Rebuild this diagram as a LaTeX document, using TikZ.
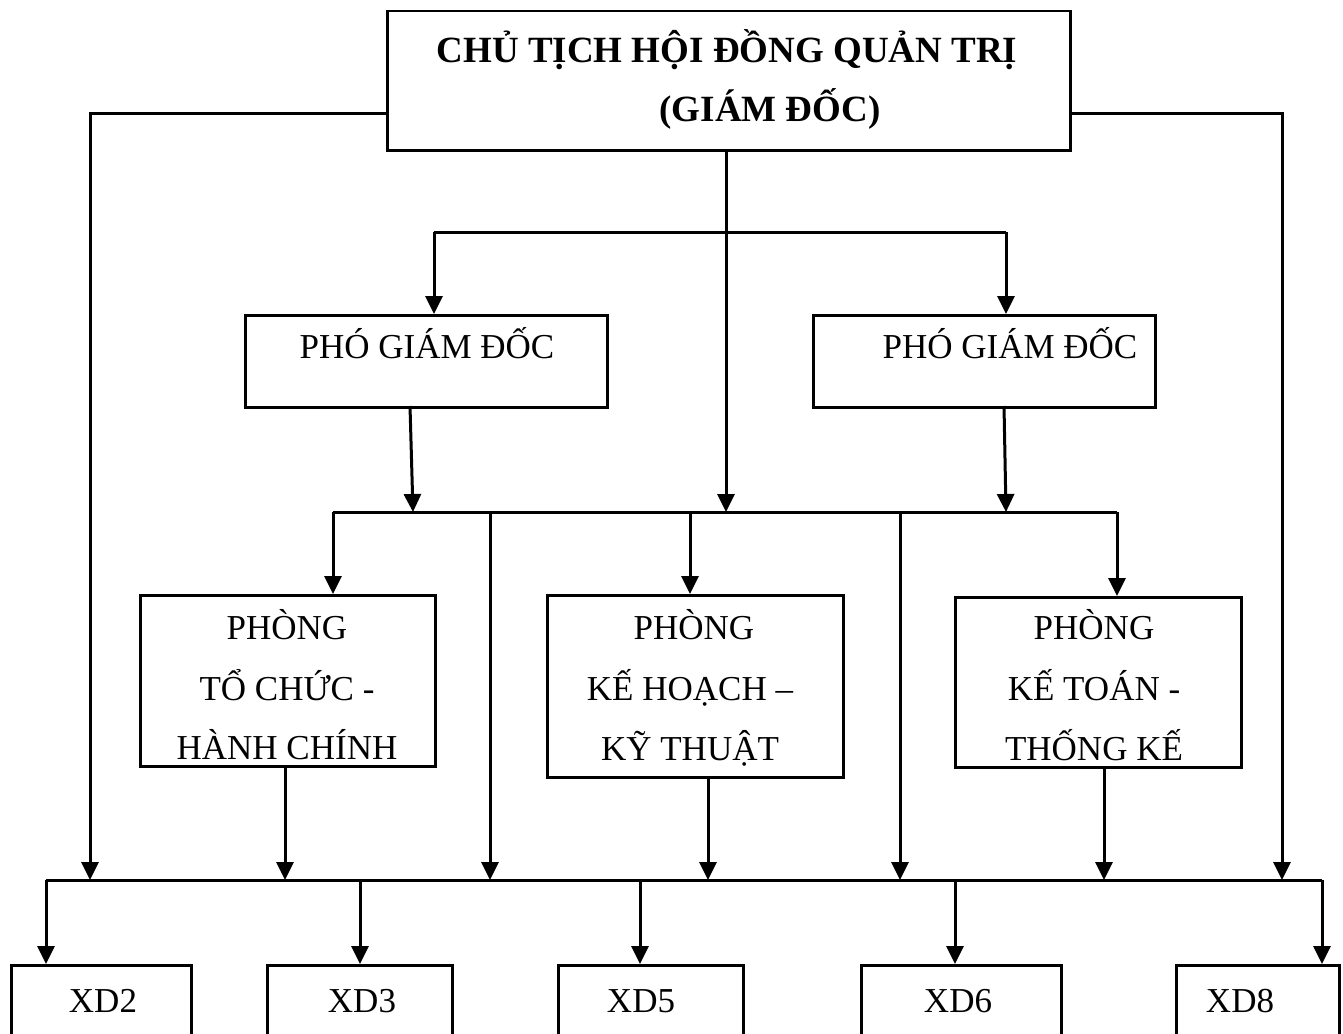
\documentclass[tikz,border=0pt]{standalone}
\usepackage{fontspec}
\setmainfont{Liberation Serif}
\usetikzlibrary{arrows.meta}
\begin{document}
\begin{tikzpicture}[x=1pt,y=-1pt,
  box/.style={draw,line width=2.5pt,anchor=north west,inner sep=0pt},
  txt/.style={anchor=base,inner sep=0pt,font=\fontsize{35}{35}\selectfont},
  btxt/.style={anchor=base,inner sep=0pt,font=\fontsize{37}{37}\selectfont\bfseries},
  ln/.style={line width=3pt},
  arr/.style={line width=3pt,-{Triangle[length=18pt,width=17pt]}}]
\useasboundingbox (0,0) rectangle (1343,1033);
% boxes
\node[box,minimum width=683pt,minimum height=139pt] (top) at (386,10) {};
\node[box,minimum width=362pt,minimum height=92pt] (pg1) at (244,314) {};
\node[box,minimum width=342pt,minimum height=92pt] (pg2) at (812,314) {};
\node[box,minimum width=295pt,minimum height=171pt] (tc) at (139,594) {};
\node[box,minimum width=296pt,minimum height=182pt] (kh) at (546,594) {};
\node[box,minimum width=286pt,minimum height=170pt] (kt) at (954,596) {};
\node[box,minimum width=180pt,minimum height=90pt] (xd2) at (10,964) {};
\node[box,minimum width=185pt,minimum height=90pt] (xd3) at (266,964) {};
\node[box,minimum width=185pt,minimum height=90pt] (xd5) at (557,964) {};
\node[box,minimum width=200pt,minimum height=90pt] (xd6) at (860,964) {};
\node[box,minimum width=163pt,minimum height=90pt] (xd8) at (1175,964) {};
% texts
\node[btxt] (t1) at (727,63) {CHỦ TỊCH HỘI ĐỒNG QUẢN TRỊ};
\node[btxt] (t2) at (770,121) {(GIÁM ĐỐC)};
\node[txt] (p1) at (427,358) {PHÓ GIÁM ĐỐC};
\node[txt] (p2) at (1010,358) {PHÓ GIÁM ĐỐC};
\node[txt] (a1) at (287,639) {PHÒNG};
\node[txt] (a2) at (287,700) {TỔ CHỨC -};
\node[txt] (a3) at (287,759) {HÀNH CHÍNH};
\node[txt] (b1) at (694,639) {PHÒNG};
\node[txt] (b2) at (690,700) {KẾ HOẠCH –};
\node[txt] (b3) at (690,760) {KỸ THUẬT};
\node[txt] (c1) at (1094,639) {PHÒNG};
\node[txt] (c2) at (1094,700) {KẾ TOÁN -};
\node[txt] (c3) at (1094,760) {THỐNG KẾ};
\node[txt] (x2) at (103,1012) {XD2};
\node[txt] (x3) at (362,1012) {XD3};
\node[txt] (x5) at (641,1012) {XD5};
\node[txt] (x6) at (958,1012) {XD6};
\node[txt] (x8) at (1240,1012) {XD8};
% coordinates
\coordinate (b2l) at (333,512);
\coordinate (b2r) at (1117,512);
\coordinate (b3l) at (46,880);
\coordinate (b3r) at (1322,880);
% top connectors
\draw[arr] (top.west |- 0,113) -- (90,113) -- (90,880);
\draw[arr] (top.east |- 0,113) -- (1282,113) -- (1282,880);
\draw[arr] (726,149) -- (726,512);
\draw[ln] (434,232) -- (1006,232);
\draw[arr] (434,232) -- (434,314);
\draw[arr] (1006,232) -- (1006,314);
\draw[arr] (410,406) -- (413,512);
\draw[arr] (1004,406) -- (1006,512);
% bus 2
\draw[ln] (b2l) -- (b2r);
\draw[arr] (b2l) -- (333,594);
\draw[arr] (490,512) -- (490,880);
\draw[arr] (690,512) -- (690,594);
\draw[arr] (900,512) -- (900,880);
\draw[arr] (b2r) -- (1117,596);
% boxes to bus 3
\draw[arr] (285,765) -- (285,880);
\draw[arr] (708,776) -- (708,880);
\draw[arr] (1104,766) -- (1104,880);
% bus 3
\draw[ln] (b3l) -- (b3r);
\draw[arr] (b3l) -- (46,964);
\draw[arr] (360,880) -- (360,964);
\draw[arr] (640,880) -- (640,964);
\draw[arr] (955,880) -- (955,964);
\draw[arr] (b3r) -- (1322,964);
\end{tikzpicture}
\end{document}
